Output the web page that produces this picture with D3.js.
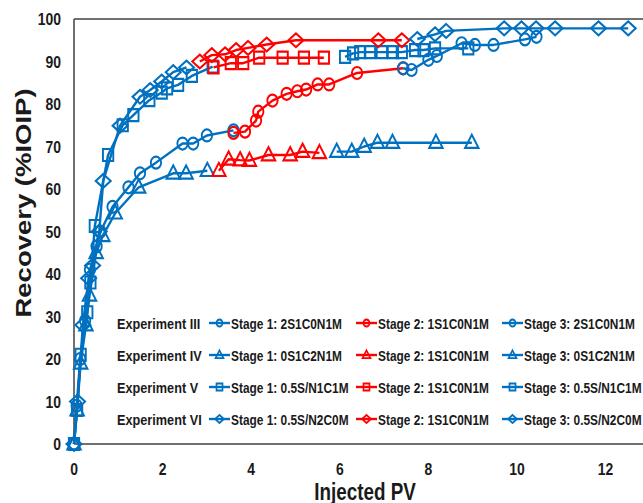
<!DOCTYPE html>
<html>
<head>
<meta charset="utf-8">
<script src="https://cdn.jsdelivr.net/npm/d3@7"></script>
<style>
  html, body { margin: 0; padding: 0; background: #ffffff; }
  svg { display: block; }
</style>
</head>
<body>
<svg id="chart" width="643" height="503"></svg>
<script>
// ---- Data: cumulative recovery (%IOIP) vs injected pore volumes ----
const expIII_s1_pv  = [0, 0.06, 0.14, 0.25, 0.36, 0.51, 0.6, 0.87, 1.23, 1.49, 1.85, 2.45, 2.69, 3.0, 3.6];
const expIII_s1_rec = [0, 9, 20, 29, 41, 46.5, 50, 55.8, 60.4, 63.7, 66.2, 70.7, 70.7, 72.6, 73.8];
const expIII_s2_pv  = [3.6, 3.86, 4.11, 4.16, 4.48, 4.8, 5.04, 5.24, 5.5, 5.76, 6.39, 7.43];
const expIII_s2_rec = [73.2, 73.5, 76.1, 78.2, 80.8, 82.4, 83, 83.4, 84.6, 84.6, 87.3, 88.4];
const expIII_s3_pv  = [7.43, 7.62, 8.0, 8.19, 8.75, 9.05, 9.47, 10.18, 10.44];
const expIII_s3_rec = [88.4, 88, 90.4, 91.3, 94.3, 93.9, 93.9, 95.2, 95.8];

const expIV_s1_pv  = [0, 0.07, 0.15, 0.27, 0.35, 0.5, 0.65, 0.93, 1.46, 2.24, 2.53, 3.01];
const expIV_s1_rec = [0, 8, 19, 28, 35, 45, 49, 54.3, 60.4, 63.7, 63.7, 64.3];
const expIV_s2_pv  = [3.27, 3.49, 3.75, 3.96, 4.39, 4.88, 5.16, 5.54];
const expIV_s2_rec = [64.3, 67, 66.8, 66.7, 68, 68, 68.8, 68.5];
const expIV_s3_pv  = [5.93, 6.27, 6.55, 6.85, 7.19, 8.17, 8.98];
const expIV_s3_rec = [68.8, 68.8, 70, 70.9, 70.9, 70.9, 70.9];

const expV_s1_pv  = [0, 0.07, 0.15, 0.3, 0.37, 0.47, 0.77, 1.1, 1.34, 1.7, 1.98, 2.1, 2.35, 2.66, 3.13];
const expV_s1_rec = [0, 8, 21, 31, 38, 51.3, 68, 75, 77.4, 80.9, 82.7, 83.7, 84.5, 86.6, 88.8];
const expV_s2_pv  = [3.15, 3.54, 3.82, 4.18, 4.71, 5.19, 5.64];
const expV_s2_rec = [88.6, 89.6, 89.6, 90.9, 90.9, 90.9, 90.9];
const expV_s3_pv  = [6.12, 6.3, 6.46, 6.68, 6.95, 7.2, 7.4, 7.7, 7.89, 8.15, 8.9];
const expV_s3_rec = [91.1, 91.9, 92.2, 92.2, 92.2, 92.2, 92.2, 92.7, 92.7, 93.1, 93.1];

const expVI_s1_pv  = [0, 0.08, 0.2, 0.33, 0.42, 0.57, 0.66, 1.04, 1.49, 1.72, 1.98, 2.24, 2.54];
const expVI_s1_rec = [0, 10, 28, 39, 42, 50, 61.9, 74.9, 81.7, 83.3, 85.3, 87.5, 88.6];
const expVI_s2_pv  = [2.84, 3.11, 3.41, 3.66, 3.93, 4.35, 5.01, 6.87, 7.4];
const expVI_s2_rec = [90, 91.5, 91.7, 92.7, 93.2, 94, 95, 95, 95];
const expVI_s3_pv  = [7.75, 8.15, 8.4, 9.71, 10.1, 10.43, 10.86, 11.84, 12.51];
const expVI_s3_rec = [95.3, 96.4, 97.2, 97.8, 97.8, 97.8, 97.8, 97.8, 97.8];

const experimentNames = ["Experiment III", "Experiment IV", "Experiment V", "Experiment VI"];
const stageNames = [
  ["Stage 1: 2S1C0N1M",   "Stage 2: 1S1C0N1M", "Stage 3: 2S1C0N1M"],
  ["Stage 1: 0S1C2N1M",   "Stage 2: 1S1C0N1M", "Stage 3: 0S1C2N1M"],
  ["Stage 1: 0.5S/N1C1M", "Stage 2: 1S1C0N1M", "Stage 3: 0.5S/N1C1M"],
  ["Stage 1: 0.5S/N2C0M", "Stage 2: 1S1C0N1M", "Stage 3: 0.5S/N2C0M"]
];
const markerShapes = ["circle", "triangle", "square", "diamond"];
const xTicks = [0, 2, 4, 6, 8, 10, 12];
const yTicks = [0, 10, 20, 30, 40, 50, 60, 70, 80, 90, 100];
const xTitle = "Injected PV";
const yTitle = "Recovery (%IOIP)";

const pvSets = [
  [expIII_s1_pv, expIII_s2_pv, expIII_s3_pv],
  [expIV_s1_pv, expIV_s2_pv, expIV_s3_pv],
  [expV_s1_pv, expV_s2_pv, expV_s3_pv],
  [expVI_s1_pv, expVI_s2_pv, expVI_s3_pv]
];
const recSets = [
  [expIII_s1_rec, expIII_s2_rec, expIII_s3_rec],
  [expIV_s1_rec, expIV_s2_rec, expIV_s3_rec],
  [expV_s1_rec, expV_s2_rec, expV_s3_rec],
  [expVI_s1_rec, expVI_s2_rec, expVI_s3_rec]
];

// ---- Styling ----
const BLUE = "#0070C0";
const RED = "#FF0000";
const stageColor = [BLUE, RED, BLUE];
const AXIS = "#404040";
const SQUEEZE = 0.82;   // horizontal compression applied to every glyph and marker
const FONT = "'Liberation Sans', Arial, sans-serif";

const svg = d3.select("#chart");

function label(parent, px, py, txt, size, anchor, rotate) {
  const g = parent.append("g")
    .attr("transform", `translate(${px},${py}) scale(${SQUEEZE},1)` + (rotate ? ` rotate(${rotate})` : ""));
  g.append("text")
    .attr("font-family", FONT).attr("font-weight", "bold").attr("font-size", size)
    .attr("fill", "#1a1a1a").attr("text-anchor", anchor || "start")
    .text(txt);
  return g;
}

// ---- Scales ----
const x = d3.scaleLinear().domain([0, 13]).range([74, 74 + 13 * 44.3]);
const y = d3.scaleLinear().domain([0, 100]).range([444, 19]);

// ---- Frame / axes ----
svg.append("line").attr("x1", x(0)).attr("x2", 643).attr("y1", y(100)).attr("y2", y(100))
  .attr("stroke", AXIS).attr("stroke-width", 1.5);
svg.append("line").attr("x1", x(0)).attr("x2", 643).attr("y1", y(0)).attr("y2", y(0))
  .attr("stroke", AXIS).attr("stroke-width", 1.5);
svg.append("line").attr("x1", x(0)).attr("x2", x(0)).attr("y1", y(0)).attr("y2", y(100))
  .attr("stroke", AXIS).attr("stroke-width", 1.5);

yTicks.forEach(t => label(svg, 61, y(t) + 6, String(t), 17, "end"));
xTicks.forEach(t => label(svg, x(t), 475, String(t), 17, "middle"));

label(svg, 365, 500, xTitle, 23, "middle");
label(svg, 31, 203, yTitle, 27.5, "middle", -90);

// ---- Marker shapes (drawn in an unsqueezed frame, then compressed) ----
function markerPath(shape, s) {
  const p = d3.path();
  if (shape === "circle") {
    p.moveTo(s, 0); p.arc(0, 0, s, 0, 2 * Math.PI);
  } else if (shape === "square") {
    p.rect(-s, -s, 2 * s, 2 * s);
  } else if (shape === "triangle") {
    const h = s * 2.2;
    p.moveTo(0, -h * 0.6); p.lineTo(s * 1.3, h * 0.4); p.lineTo(-s * 1.3, h * 0.4); p.closePath();
  } else {
    const dx = s * 1.45, dy = s * 1.15;
    p.moveTo(0, -dy); p.lineTo(dx, 0); p.lineTo(0, dy); p.lineTo(-dx, 0); p.closePath();
  }
  return p.toString();
}

const line = d3.line().x(d => x(d[0])).y(d => y(d[1]));
const plot = svg.append("g");

pvSets.forEach((stages, e) => {
  stages.forEach((pv, s) => {
    const pts = pv.map((v, i) => [v, recSets[e][s][i]]);
    const col = stageColor[s];
    const g = plot.append("g");
    g.append("path").datum(pts).attr("d", line)
      .attr("fill", "none").attr("stroke", col).attr("stroke-width", 2.4)
      .attr("stroke-linejoin", "round");
    g.selectAll("path.m").data(pts).join("path").attr("class", "m")
      .attr("transform", d => `translate(${x(d[0])},${y(d[1])}) scale(${SQUEEZE + 0.04},1)`)
      .attr("d", markerPath(markerShapes[e], 6))
      .attr("fill", "none").attr("stroke", col).attr("stroke-width", 2.2);
  });
});

// ---- Legend ----
const rowY = [323, 355, 387, 419];
const symX = [219.5, 366.5, 512.5];
const legend = svg.append("g");
experimentNames.forEach((name, r) => {
  label(legend, 117, rowY[r] + 5.5, name, 15.5, "start");
  stageNames[r].forEach((txt, c) => {
    const col = stageColor[c];
    legend.append("line").attr("x1", symX[c] - 10.5).attr("x2", symX[c] + 10.5)
      .attr("y1", rowY[r]).attr("y2", rowY[r]).attr("stroke", col).attr("stroke-width", 2.4);
    legend.append("path").attr("transform", `translate(${symX[c]},${rowY[r]}) scale(${SQUEEZE + 0.04},1)`)
      .attr("d", markerPath(markerShapes[r], 3.5))
      .attr("fill", "none").attr("stroke", col).attr("stroke-width", 1.9);
    label(legend, symX[c] + 11.5, rowY[r] + 5.5, txt, 14.5, "start");
  });
});
</script>
</body>
</html>
